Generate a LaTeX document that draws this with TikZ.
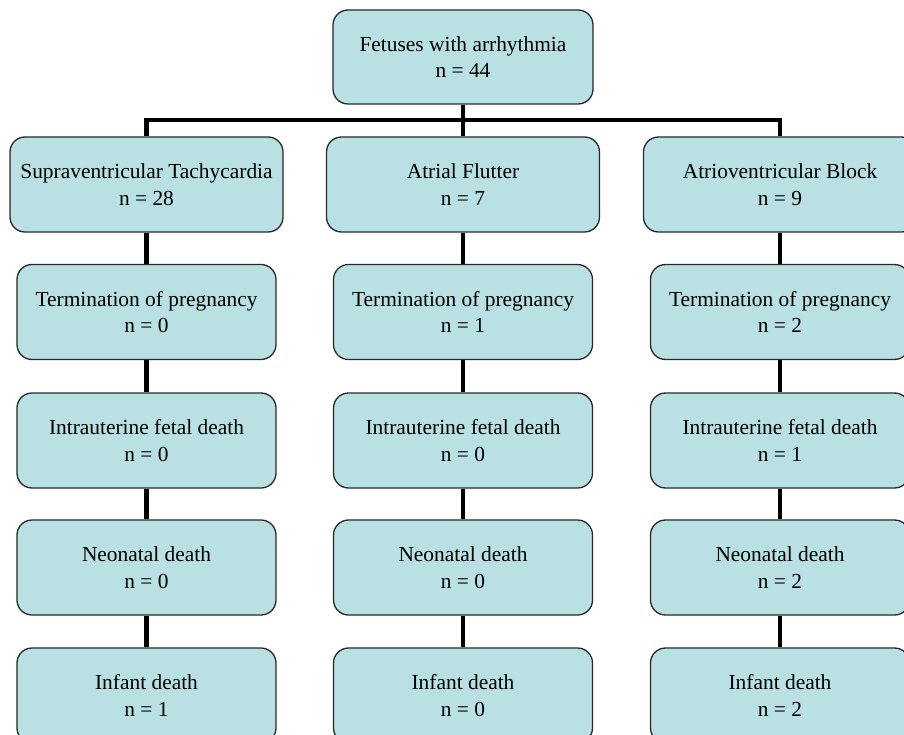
\documentclass[tikz,border=0pt]{standalone}
\usepackage{fontspec}
\setmainfont{Liberation Serif}
\definecolor{boxfill}{RGB}{185,224,227}
\definecolor{boxline}{RGB}{40,40,40}
\begin{document}
\begin{tikzpicture}[x=1pt,y=-1pt,
  box/.style={draw=boxline, line width=1.3pt, fill=boxfill, rounded corners=15pt,
    align=center, inner sep=0pt, minimum height=95pt,
    font=\fontsize{21.4}{26.5}\selectfont},
  wbox/.style={box, minimum width=273pt},
  nbox/.style={box, minimum width=259pt},
  tbox/.style={box, minimum width=260pt, minimum height=94pt},
  conn/.style={draw=black, line width=4.2pt}]
\useasboundingbox (0,0) rectangle (904,735);
\clip (0,0) rectangle (904,735);
% top
\node[tbox] (top) at (463,57) {Fetuses with arrhythmia\\n = 44};
% level 1
\node[wbox] (a1) at (146.5,184.5) {Supraventricular Tachycardia\\n = 28};
\node[wbox] (b1) at (463,184.5) {Atrial Flutter\\n = 7};
\node[wbox] (c1) at (780,184.5) {Atrioventricular Block\\n = 9};
% level 2
\node[nbox] (a2) at (146.5,312) {Termination of pregnancy\\n = 0};
\node[nbox] (b2) at (463,312) {Termination of pregnancy\\n = 1};
\node[nbox] (c2) at (780,312) {Termination of pregnancy\\n = 2};
% level 3
\node[nbox] (a3) at (146.5,440.5) {Intrauterine fetal death\\n = 0};
\node[nbox] (b3) at (463,440.5) {Intrauterine fetal death\\n = 0};
\node[nbox] (c3) at (780,440.5) {Intrauterine fetal death\\n = 1};
% level 4
\node[nbox] (a4) at (146.5,567.5) {Neonatal death\\n = 0};
\node[nbox] (b4) at (463,567.5) {Neonatal death\\n = 0};
\node[nbox] (c4) at (780,567.5) {Neonatal death\\n = 2};
% level 5
\node[nbox] (a5) at (146.5,695.5) {Infant death\\n = 1};
\node[nbox] (b5) at (463,695.5) {Infant death\\n = 0};
\node[nbox] (c5) at (780,695.5) {Infant death\\n = 2};
% connectors
\coordinate (bar) at (463,120);
\draw[conn] (top.south) -- (bar);
\draw[conn] (a1.north) |- (bar) -| (c1.north);
\draw[conn] (bar) -- (b1.north);
\foreach \c in {a,b,c}{
  \draw[conn] (\c1.south) -- (\c2.north);
  \draw[conn] (\c2.south) -- (\c3.north);
  \draw[conn] (\c3.south) -- (\c4.north);
  \draw[conn] (\c4.south) -- (\c5.north);
}
\end{tikzpicture}
\end{document}
